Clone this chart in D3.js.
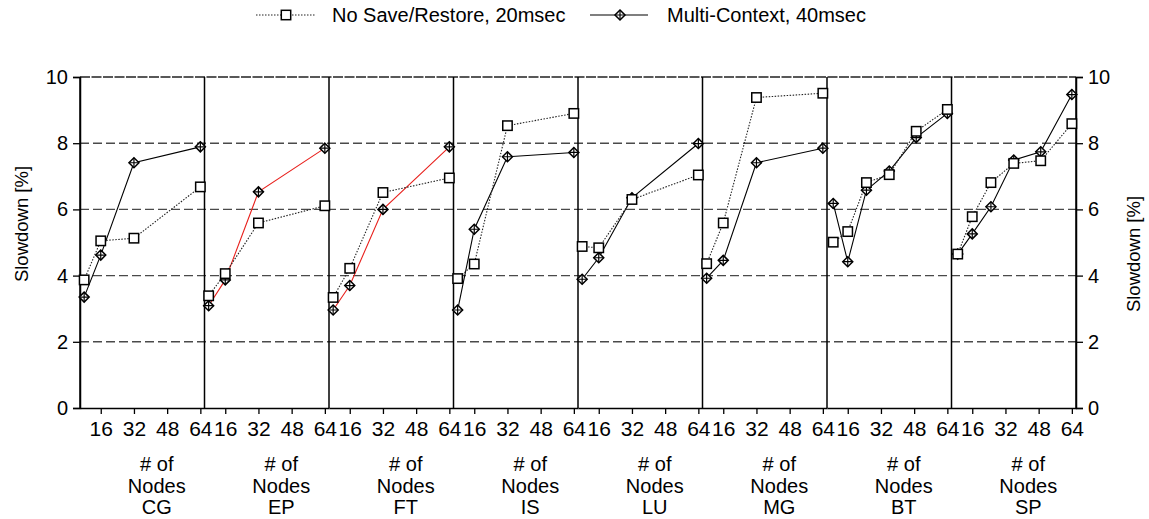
<!DOCTYPE html>
<html>
<head>
<meta charset="utf-8">
<script src="https://cdn.jsdelivr.net/npm/d3@7"></script>
<style>
  html, body { margin: 0; padding: 0; background: #fff; }
  svg { display: block; font-family: "Liberation Sans", Arial, Helvetica, sans-serif; }
</style>
</head>
<body>
<svg id="chart" width="1149" height="519"></svg>
<script>
// Benchmarks (one panel each) and node counts used per benchmark
const benchmarks = ["CG", "EP", "FT", "IS", "LU", "MG", "BT", "SP"];
const nodesPow2 = [8, 16, 32, 64];
const nodesSquare = [9, 16, 25, 36, 49, 64];
const nodeCounts = [nodesPow2, nodesPow2, nodesPow2, nodesPow2, nodesPow2, nodesPow2, nodesSquare, nodesSquare];

// Slowdown [%] without save/restore, 20 msec
const noSaveRestore = [
  [3.87, 5.05, 5.13, 6.68],
  [3.39, 4.06, 5.59, 6.11],
  [3.34, 4.22, 6.51, 6.95],
  [3.91, 4.35, 8.53, 8.90],
  [4.88, 4.84, 6.30, 7.04],
  [4.36, 5.59, 9.38, 9.51],
  [5.01, 5.33, 6.81, 7.05, 8.36, 9.02],
  [4.65, 5.78, 6.81, 7.39, 7.47, 8.59]
];

// Slowdown [%] with multi-context, 40 msec
const multiContext = [
  [3.35, 4.62, 7.41, 7.89],
  [3.09, 3.87, 6.53, 7.85],
  [2.96, 3.70, 6.00, 7.89],
  [2.96, 5.40, 7.59, 7.72],
  [3.89, 4.54, 6.35, 7.99],
  [3.92, 4.46, 7.41, 7.85],
  [6.18, 4.42, 6.58, 7.16, 8.17, 8.90],
  [4.65, 5.26, 6.08, 7.49, 7.74, 9.47]
];

// Benchmarks whose multi-context line is drawn in red
const redBenchmarks = ["EP", "FT"];

const xTicks = [16, 32, 48, 64];
const yTicks = [0, 2, 4, 6, 8, 10];
const seriesNames = ["No Save/Restore, 20msec", "Multi-Context, 40msec"];

// Layout
const svg = d3.select("#chart");
const plotLeft = 80, plotRight = 1076, plotTop = 77, plotBottom = 408;
const panelW = (plotRight - plotLeft) / benchmarks.length;

const y = d3.scaleLinear().domain([0, 10]).range([plotBottom, plotTop]);
const panelX = d3.scaleBand().domain(benchmarks).range([plotLeft, plotRight]).padding(0);

function xFor(i) {
  const x0 = panelX(benchmarks[i]);
  return d3.scaleLinear().domain([6, 66]).range([x0, x0 + panelW]);
}

// Horizontal grid lines
const grid = svg.append("g");
yTicks.filter(t => t > 0 && t < 10).forEach(t => {
  grid.append("line")
    .attr("x1", plotLeft).attr("x2", plotRight)
    .attr("y1", y(t)).attr("y2", y(t))
    .attr("stroke", "#4a4a4a").attr("stroke-width", 1.4)
    .attr("stroke-dasharray", "9,4");
});
grid.append("line")
  .attr("x1", plotLeft).attr("x2", plotRight)
  .attr("y1", y(10)).attr("y2", y(10))
  .attr("stroke", "#222").attr("stroke-width", 1.5)
  .attr("stroke-dasharray", "10,1.5");

// Panel separators
benchmarks.forEach((b, i) => {
  svg.append("line")
    .attr("x1", panelX(b)).attr("x2", panelX(b))
    .attr("y1", plotTop).attr("y2", plotBottom)
    .attr("stroke", "#000").attr("stroke-width", 1.5);
});
svg.append("line")
  .attr("x1", plotRight).attr("x2", plotRight)
  .attr("y1", plotTop).attr("y2", plotBottom)
  .attr("stroke", "#000").attr("stroke-width", 1.5);

// Y axes (left and right)
const leftAxis = svg.append("g")
  .attr("transform", `translate(${plotLeft},0)`)
  .call(d3.axisLeft(y).tickValues(yTicks).tickSize(7).tickPadding(5).tickFormat(d3.format("d")));
const rightAxis = svg.append("g")
  .attr("transform", `translate(${plotRight},0)`)
  .call(d3.axisRight(y).tickValues(yTicks).tickSize(7).tickPadding(5).tickFormat(d3.format("d")));
[leftAxis, rightAxis].forEach(a => {
  a.select(".domain").attr("stroke", "#000").attr("stroke-width", 1.5);
  a.selectAll(".tick line").attr("stroke", "#000").attr("stroke-width", 1.3);
  a.selectAll("text").attr("font-size", 20).attr("fill", "#000")
    .attr("font-family", "Liberation Sans, Arial, sans-serif");
});

// X axes per panel
benchmarks.forEach((b, i) => {
  const x = xFor(i);
  const g = svg.append("g")
    .attr("transform", `translate(0,${plotBottom})`)
    .call(d3.axisBottom(x).tickValues(xTicks).tickSize(6).tickPadding(7).tickSizeOuter(0).tickFormat(d3.format("d")));
  g.select(".domain").attr("stroke", "#000").attr("stroke-width", 1.5);
  g.selectAll(".tick line").attr("stroke", "#000").attr("stroke-width", 1.3);
  g.selectAll("text").attr("font-size", 21).attr("fill", "#000")
    .attr("font-family", "Liberation Sans, Arial, sans-serif");

  const lbl = svg.append("text")
    .attr("x", x(43)).attr("text-anchor", "middle")
    .attr("font-size", 20).attr("fill", "#000");
  ["# of", "Nodes", b].forEach((t, k) => {
    lbl.append("tspan").attr("x", x(43)).attr("y", 471 + k * 21.5).text(t);
  });
});

// Y axis titles
svg.append("text")
  .attr("transform", "translate(22,224) rotate(-90)")
  .attr("text-anchor", "middle").attr("dy", "0.35em")
  .attr("font-size", 18.5).attr("fill", "#000")
  .text("Slowdown [%]");
svg.append("text")
  .attr("transform", "translate(1134,254) rotate(-90)")
  .attr("text-anchor", "middle").attr("dy", "0.35em")
  .attr("font-size", 18.5).attr("fill", "#000")
  .text("Slowdown [%]");

// Marker helpers
function drawSquare(g, cx, cy) {
  g.append("rect")
    .attr("x", cx - 4.7).attr("y", cy - 4.7)
    .attr("width", 9.4).attr("height", 9.4)
    .attr("fill", "#fff").attr("stroke", "#000").attr("stroke-width", 1.5);
}
function drawDiamond(g, cx, cy) {
  const r = 5;
  g.append("path")
    .attr("d", `M${cx},${cy - r}L${cx + r},${cy}L${cx},${cy + r}L${cx - r},${cy}Z`)
    .attr("fill", "#fff").attr("stroke", "#000").attr("stroke-width", 1.5);
  g.append("path")
    .attr("d", `M${cx},${cy - r}V${cy + r}M${cx - r},${cy}H${cx + r}`)
    .attr("stroke", "#000").attr("stroke-width", 1.2);
}

// Series
const marks = svg.append("g");
benchmarks.forEach((b, i) => {
  const x = xFor(i);
  const nodes = nodeCounts[i];
  const line = d3.line().x(d => x(d[0])).y(d => y(d[1]));

  const mc = nodes.map((n, k) => [n, multiContext[i][k]]);
  const ns = nodes.map((n, k) => [n, noSaveRestore[i][k]]);

  marks.append("path").datum(mc).attr("d", line)
    .attr("fill", "none")
    .attr("stroke", redBenchmarks.includes(b) ? "#e8201c" : "#000")
    .attr("stroke-width", 1.1);
  marks.append("path").datum(ns).attr("d", line)
    .attr("fill", "none").attr("stroke", "#222")
    .attr("stroke-width", 1.1).attr("stroke-dasharray", "1.5,1.5");

  mc.forEach(d => drawDiamond(marks, x(d[0]), y(d[1])));
  ns.forEach(d => drawSquare(marks, x(d[0]), y(d[1])));
});

// Legend
const legend = svg.append("g");
legend.append("line").attr("x1", 256).attr("x2", 315).attr("y1", 15).attr("y2", 15)
  .attr("stroke", "#222").attr("stroke-width", 1.1).attr("stroke-dasharray", "1.5,1.5");
drawSquare(legend, 286, 15);
legend.append("text").attr("x", 332).attr("y", 22).attr("font-size", 20).attr("fill", "#000")
  .text(seriesNames[0]);
legend.append("line").attr("x1", 590).attr("x2", 648).attr("y1", 15).attr("y2", 15)
  .attr("stroke", "#000").attr("stroke-width", 1.1);
drawDiamond(legend, 620, 15);
legend.append("text").attr("x", 667).attr("y", 22).attr("font-size", 20).attr("fill", "#000")
  .text(seriesNames[1]);
</script>
</body>
</html>
